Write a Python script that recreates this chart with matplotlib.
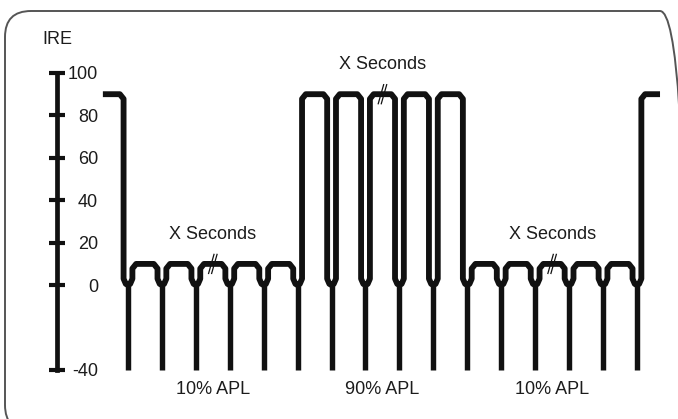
import numpy as np
import matplotlib
matplotlib.use("Agg")
import matplotlib.pyplot as plt
from matplotlib.patches import FancyBboxPatch

plt.rcParams['font.family'] = ['Liberation Sans', 'DejaVu Sans']

# ---------------- data ----------------
ire_ticks = [100, 80, 60, 40, 20, 0, -40]
sync_times = [0, 1, 2, 3, 4, 5, 6, 7, 8, 9, 10, 11, 12, 13, 14, 15]   # line periods
segment_apl = [90, 10, 10, 10, 10, 10, 90, 90, 90, 90, 90, 10, 10, 10, 10, 10, 90]
blank_level = 0
sync_level = -40
wave_start, wave_end = -0.74, 15.68
section_centers = [2.5, 7.5, 12.5]
section_labels = ["10% APL", "90% APL", "10% APL"]
duration_label = "X Seconds"

# ---------------- layout ----------------
W, H = 678, 419
fig = plt.figure(figsize=(W / 100, H / 100), dpi=100)
ax = fig.add_axes([0, 0, 1, 1])
ax.set_xlim(-3.772, 16.21)
ax.set_ylim(-63.1, 134.4)
ax.patch.set_alpha(0)

ink = '#111111'
txt = '#1c1c1c'
fs = 13
lw_wave = 4.2

# rounded frame (pixel coordinates of the figure)
frame = FancyBboxPatch((5, -12), 681, 420,
                       boxstyle="round,pad=0,rounding_size=26",
                       transform=None, fill=False,
                       edgecolor='#555555', linewidth=1.4, zorder=0)
fig.patches.append(frame)

# ---------------- waveform ----------------
g, c, cy = 0.13, 0.11, 2.2
xs = [wave_start]
ys = [segment_apl[0]]
for i, s in enumerate(sync_times):
    lp, ln = segment_apl[i], segment_apl[i + 1]
    xs += [s - g - c, s - g, s - g, s - g * 0.5, s, s + g * 0.5, s + g, s + g, s + g + c]
    ys += [lp, lp - cy, blank_level + 3.0, blank_level + 0.6, blank_level,
           blank_level + 0.6, blank_level + 3.0, ln - cy, ln]
xs.append(wave_end)
ys.append(segment_apl[-1])
ax.plot(xs, ys, color=ink, lw=lw_wave, solid_joinstyle='round',
        solid_capstyle='butt', zorder=3)

sticks = ax.vlines(sync_times, sync_level, blank_level + 0.5, color=ink,
                   lw=lw_wave - 0.3, zorder=3)
sticks.set_capstyle('butt')

# break marks "//"
for tb in section_centers:
    lvl = segment_apl[int(tb) + 1]
    for off in (-0.045, 0.045):
        ax.plot([tb + off - 0.08, tb + off + 0.08], [lvl - 4.5, lvl + 4.5],
                color=ink, lw=0.9, zorder=4)

# ---------------- IRE scale (axis) ----------------
scale_t = -2.09
for side in ('left', 'top', 'bottom'):
    ax.spines[side].set_visible(False)
sp = ax.spines['right']
sp.set_position(('data', scale_t))
sp.set_bounds(ire_ticks[-1], ire_ticks[0])
sp.set_linewidth(3.4)
sp.set_color(ink)
ax.set_xticks([])
ax.yaxis.tick_right()
ax.set_yticks(ire_ticks)
ax.set_yticklabels([str(v) for v in ire_ticks])
ax.tick_params(axis='y', direction='inout', length=12, width=3.0,
               color=ink, labelsize=fs, labelcolor=txt, pad=23.5)
for tk in ax.yaxis.get_major_ticks():
    tk.label2.set_horizontalalignment('right')

ax.text(scale_t, 115.6, "IRE", ha='center', va='center', fontsize=fs, color=txt)

# ---------------- annotations ----------------
for tb, lab in zip(section_centers, section_labels):
    lvl = segment_apl[int(tb) + 1]
    ax.text(tb, lvl + 14, duration_label, ha='center', va='center',
            fontsize=fs, color=txt)
    ax.text(tb, -49, lab, ha='center', va='center', fontsize=fs, color=txt)

fig.savefig("out.png", dpi=100)
